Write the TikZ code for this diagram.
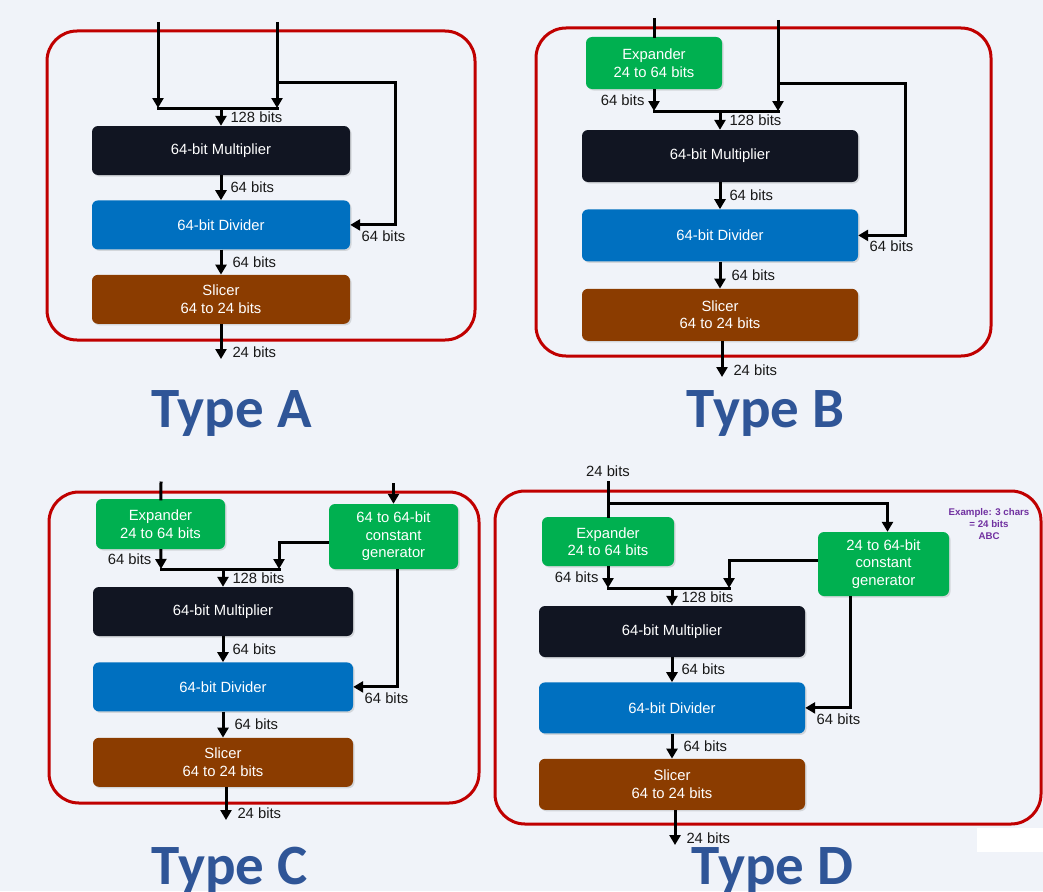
\documentclass[tikz,border=0pt]{standalone}
\usepackage{fontspec}
\setmainfont{Liberation Sans}
\newfontfamily\titlefont{Carlito}
\usetikzlibrary{arrows.meta,positioning,shadows}
\definecolor{bg}{HTML}{F0F3F9}
\definecolor{redline}{HTML}{C00000}
\definecolor{ink}{HTML}{111522}
\definecolor{azure}{HTML}{0070C0}
\definecolor{rust}{HTML}{8B3C00}
\definecolor{leaf}{HTML}{00B050}
\definecolor{navy}{HTML}{2F5597}
\definecolor{plum}{HTML}{7030A0}
\tikzset{
  blk/.style={rounded corners=6pt,text=white,align=center,inner sep=0pt,font=\fontsize{14.8}{17.5}\selectfont,drop shadow={shadow xshift=1.5pt,shadow yshift=-1.5pt,opacity=0.25}},
  mul/.style={blk,fill=ink},
  dvd/.style={blk,fill=azure},
  slc/.style={blk,fill=rust},
  xpd/.style={blk,fill=leaf},
  lbl/.style={inner sep=1pt,text=black!90,font=\fontsize{14.8}{17}\selectfont},
  arr/.style={-{Triangle[length=10pt,width=11pt]},line width=3pt},
  wire/.style={line width=3pt,line cap=rect},
  panel/.style={draw=redline,line width=3pt,rounded corners=30pt},
  title/.style={text=navy,font=\titlefont\bfseries\fontsize{57}{60}\selectfont,anchor=base,inner sep=0pt}
}
\begin{document}
\begin{tikzpicture}[x=1pt,y=-1pt]
  \useasboundingbox (0,0) rectangle (1043,891);
  \fill[bg] (0,0) rectangle (1043,891);

  % Type A
  \draw[panel] (47,31) rectangle (475,340);
  \node[mul,minimum width=258pt,minimum height=49pt] (mulA) at (221,150.5) {64-bit Multiplier};
  \node[dvd,minimum width=258pt,minimum height=49pt,below=25pt of mulA] (divA) {64-bit Divider};
  \node[slc,minimum width=258pt,minimum height=49pt,below=25pt of divA] (slcA) {Slicer\\64 to 24 bits};
  \coordinate (inA1) at (158,22);
  \coordinate (inA2) at (277,22);
  \coordinate (jnA1) at (158,108);
  \coordinate (jnA2) at (277,108);
  \coordinate (tapA) at (277,82);
  \coordinate (fbA) at (395,82);
  \coordinate (outA) at (221,359);
  \draw[arr] (inA1) -- (jnA1);
  \draw[arr] (inA2) -- (jnA2);
  \draw[wire] (jnA1) -- (jnA2);
  \draw[arr] (mulA.north |- jnA1) -- node[lbl,right=7pt] (lA1) {128 bits} (mulA.north);
  \draw[arr] (mulA) -- node[lbl,right=7pt] (lA2) {64 bits} (divA);
  \draw[arr] (divA) -- node[lbl,right=9pt] (lA3) {64 bits} (slcA);
  \draw[arr] (tapA) -- (fbA) |- node[lbl,pos=1,anchor=north west,xshift=9pt,yshift=-3pt] (lA4) {64 bits} (divA.east);
  \draw[arr] (slcA) -- node[lbl,right=9pt,pos=0.8] (lA5) {24 bits} (outA);
  \node[title] (tA) at (231.5,427) {Type A};

  % Type B
  \draw[panel] (536,28) rectangle (991,356);
  \node[xpd,minimum width=136pt,minimum height=52pt] (expB) at (654,63) {Expander\\24 to 64 bits};
  \node[mul,minimum width=276pt,minimum height=52pt] (mulB) at (720,156) {64-bit Multiplier};
  \node[dvd,minimum width=276pt,minimum height=52pt,below=27pt of mulB] (divB) {64-bit Divider};
  \node[slc,minimum width=276pt,minimum height=52pt,below=27pt of divB] (slcB) {Slicer\\64 to 24 bits};
  \coordinate (inB1) at (654,20);
  \coordinate (inB2) at (778,20);
  \coordinate (jnB1) at (654,111);
  \coordinate (jnB2) at (778,111);
  \coordinate (tapB) at (778,83);
  \coordinate (fbB) at (905,83);
  \coordinate (outB) at (722,377);
  \draw[wire] (inB1) -- (expB);
  \draw[arr] (inB2) -- (jnB2);
  \draw[arr] (expB) -- node[lbl,left=7pt] (lB0) {64 bits} (jnB1);
  \draw[wire] (jnB1) -- (jnB2);
  \draw[arr] (mulB.north |- jnB1) -- node[lbl,right=7pt] (lB1) {128 bits} (mulB.north);
  \draw[arr] (mulB) -- node[lbl,right=7pt] (lB2) {64 bits} (divB);
  \draw[arr] (divB) -- node[lbl,right=9pt] (lB3) {64 bits} (slcB);
  \draw[arr] (tapB) -- (fbB) |- node[lbl,pos=1,anchor=north west,xshift=9pt,yshift=-3pt] (lB4) {64 bits} (divB.east);
  \draw[arr] (slcB.south -| outB) -- node[lbl,right=9pt,pos=0.8] (lB5) {24 bits} (outB);
  \node[title] (tB) at (765.5,427) {Type B};

  % Type C
  \draw[panel] (49,492) rectangle (479,803);
  \node[xpd,minimum width=129pt,minimum height=50pt] (expC) at (160.5,524) {Expander\\24 to 64 bits};
  \node[xpd,minimum width=129pt,minimum height=65pt] (genC) at (393.5,536.5) {64 to 64-bit\\constant\\generator};
  \node[mul,minimum width=260pt,minimum height=49pt] (mulC) at (223,611.5) {64-bit Multiplier};
  \node[dvd,minimum width=260pt,minimum height=49pt,below=26pt of mulC] (divC) {64-bit Divider};
  \node[slc,minimum width=260pt,minimum height=49pt,below=26pt of divC] (slcC) {Slicer\\64 to 24 bits};
  \coordinate (inC1) at (161,483);
  \coordinate (inC2) at (393.5,483);
  \coordinate (jnC1) at (161,569);
  \coordinate (jnC2) at (279,569);
  \coordinate (outC) at (226,820);
  \draw[wire] (inC1) -- (expC);
  \draw[arr] (inC2) -- (genC);
  \draw[arr] (expC) -- node[lbl,left=7pt] (lC0) {64 bits} (jnC1);
  \draw[arr] ([yshift=-6pt]genC.west) -| (jnC2);
  \draw[wire] (jnC1) -- (jnC2);
  \draw[arr] (mulC.north |- jnC1) -- node[lbl,right=7pt] (lC1) {128 bits} (mulC.north);
  \draw[arr] (mulC) -- node[lbl,right=7pt] (lC2) {64 bits} (divC);
  \draw[arr] (divC) -- node[lbl,right=9pt] (lC3) {64 bits} (slcC);
  \draw[arr] ([xshift=4pt]genC.south) |- node[lbl,pos=1,anchor=north west,xshift=9pt,yshift=-3pt] (lC4) {64 bits} (divC.east);
  \draw[arr] (slcC.south -| outC) -- node[lbl,right=9pt,pos=0.8] (lC5) {24 bits} (outC);
  \node[title] (tC) at (229.5,884) {Type C};

  % Type D
  \draw[panel] (495,491) rectangle (1041,824);
  \node[xpd,minimum width=132pt,minimum height=49pt] (expD) at (608,541.5) {Expander\\24 to 64 bits};
  \node[xpd,minimum width=131pt,minimum height=64pt] (genD) at (883.5,564) {24 to 64-bit\\constant\\generator};
  \node[mul,minimum width=266pt,minimum height=51pt] (mulD) at (672,631.5) {64-bit Multiplier};
  \node[dvd,minimum width=266pt,minimum height=51pt,below=25pt of mulD] (divD) {64-bit Divider};
  \node[slc,minimum width=266pt,minimum height=51pt,below=25pt of divD] (slcD) {Slicer\\64 to 24 bits};
  \coordinate (inD) at (608,482);
  \coordinate (tapD) at (608,503);
  \coordinate (jnD1) at (608,588);
  \coordinate (jnD2) at (729,588);
  \coordinate (outD) at (675,845);
  \node[lbl,above=4pt of inD] (lD0) {24 bits};
  \draw[wire] (inD) -- (expD);
  \draw[arr] (tapD) -| ([xshift=4pt]genD.north);
  \draw[arr] (expD) -- node[lbl,left=7pt] (lD1) {64 bits} (jnD1);
  \draw[arr] ([yshift=4pt]genD.west) -| (jnD2);
  \draw[wire] (jnD1) -- (jnD2);
  \draw[arr] (mulD.north |- jnD1) -- node[lbl,right=7pt] (lD2) {128 bits} (mulD.north);
  \draw[arr] (mulD) -- node[lbl,right=7pt] (lD3) {64 bits} (divD);
  \draw[arr] (divD) -- node[lbl,right=9pt] (lD4) {64 bits} (slcD);
  \draw[arr] ([xshift=-33pt]genD.south) |- node[lbl,pos=1,anchor=north west,xshift=9pt,yshift=-3pt] (lD5) {64 bits} (divD.east);
  \draw[arr] (slcD.south -| outD) -- node[lbl,right=9pt,pos=0.8] (lD6) {24 bits} (outD);
  \node[text=plum,align=center,font=\bfseries\fontsize{9.7}{12}\selectfont] (note) at (989,524) {Example: 3 chars\\= 24 bits\\ABC};
  \fill[white] (977,828) rectangle (1043,852);
  \node[title] (tD) at (772.5,884) {Type D};
\end{tikzpicture}
\end{document}
